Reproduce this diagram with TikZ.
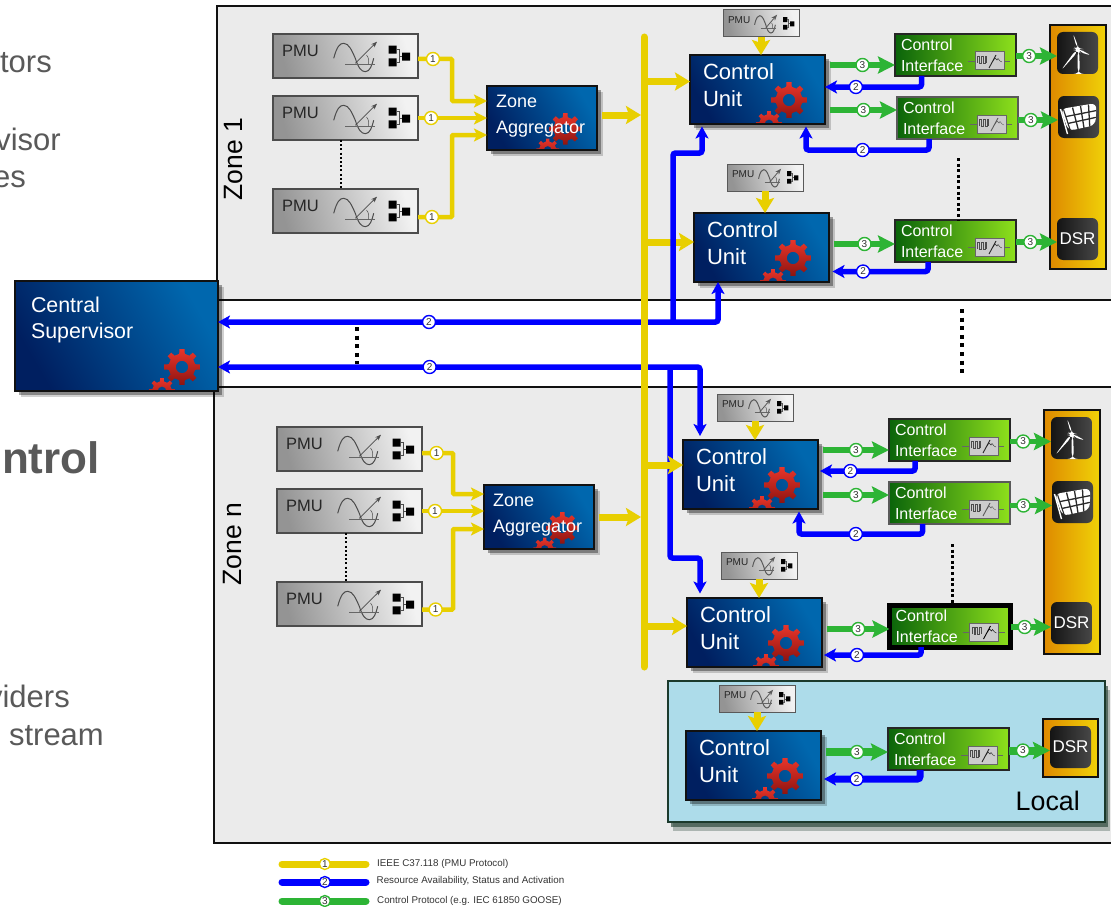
\documentclass[tikz,border=0pt]{standalone}
\usepackage{fontspec}
\setmainfont{Liberation Sans}
\usetikzlibrary{arrows.meta,positioning,shadows,calc}
\definecolor{wamsInk}{HTML}{111111}
\definecolor{wamsMuted}{HTML}{595959}
\definecolor{wamsZone}{HTML}{EBEBEB}
\definecolor{wamsLocal}{HTML}{ADDCEA}
\definecolor{wamsLocalEdge}{HTML}{1B3A2C}
\definecolor{wamsYellow}{HTML}{E8CF00}
\definecolor{wamsBlue}{HTML}{0000FF}
\definecolor{wamsGreen}{HTML}{2DB435}
\definecolor{wamsNavy}{HTML}{001F60}
\definecolor{wamsSea}{HTML}{00569C}
\definecolor{wamsSky}{HTML}{0067AE}
\definecolor{wamsLeaf}{HTML}{0A640A}
\definecolor{wamsMoss}{HTML}{3F9E10}
\definecolor{wamsLime}{HTML}{8EE01C}
\definecolor{wamsAmber}{HTML}{DE8A00}
\definecolor{wamsGold}{HTML}{F0D208}
\definecolor{wamsGearHi}{HTML}{E8352A}
\definecolor{wamsGearLo}{HTML}{8E1410}
\definecolor{wamsDark}{HTML}{2A2A2A}
\tikzset{
  yellowTip/.tip={Stealth[length=15pt,width=18pt,inset=3pt]},
  yellowSmallTip/.tip={Stealth[length=13pt,width=13pt,inset=3pt]},
  blueTip/.tip={Stealth[length=12pt,width=13pt,inset=3pt]},
  greenTip/.tip={Stealth[length=17pt,width=17pt,inset=3pt]},
  pics/gearpair/.style={code={
    \foreach \gx/\gy/\gr in {-36/-24/1, -56/0/.72} {
      \shade[even odd rule, top color=wamsGearHi, bottom color=wamsGearLo,
        shift={(\gx,\gy)}, scale=\gr]
        (-12:13.5) \foreach \a in {0,45,...,315} {
          -- (\a-12:13.5) -- (\a-8:18) -- (\a+8:18) -- (\a+12:13.5)
        } -- cycle (0,0) circle (6.2);
    }
  }},
  pics/pmuicon/.style={code={
    \draw[line width=1pt] (60.7,24.3) .. controls (64,12) and (67,9.3) .. (70.7,9.3)
      .. controls (76,9.3) and (79,17) .. (82.3,24.3)
      .. controls (85,33) and (88,37.7) .. (92.3,37.7)
      .. controls (97,37.7) and (99,31) .. (100.7,24.3);
    \draw[line width=.8pt, black!60] (72.3,30) -- (102.3,30);
    \draw[line width=.8pt, -{Stealth[length=6pt,width=4.5pt]}] (82.3,29.3) -- (104,7.7);
    \draw[line width=.5pt] (93.5,21) .. controls (96,24) and (96,27) .. (95.5,30);
    \fill (115.7,11.7) rectangle +(8,8) (115.7,24.3) rectangle +(8,8) (129,18.7) rectangle +(8,8);
    \draw[line width=.7pt] (123.7,15.7) -- (126,15.7) -- (126,28.3) -- (123.7,28.3)
      (126,22.7) -- (129,22.7);
  }},
  pics/ifaceicon/.style={code={
    \draw[line width=.8pt, black!60] (73,27) -- (115,27);
    \draw[line width=1pt, draw=black!60, fill=black!20] (80,18) rectangle (109,36);
    \draw[line width=.35pt, black!70] (82.5,29) -- (82.5,22) -- (84.3,22) -- (84.3,29) -- (86.1,29)
      -- (86.1,22) -- (87.9,22) -- (87.9,29) -- (89.7,29) -- (89.7,22) -- (91.5,22) -- (91.5,29);
    \draw[line width=.9pt] (94,34) -- (101,21);
    \draw[line width=.4pt] (98,27) -- (100,24) -- (102,26) -- (103,24.5) -- (105,27) -- (107,28);
  }},
  pics/windicon/.style={code={
    \fill[white] (-.5,-4) -- (-5,-21) -- (1.6,-4) -- cycle;
    \fill[white] (.5,-4.5) -- (15,3) -- (.5,-1.5) -- cycle;
    \fill[white] (-1,-4) -- (-17,18) -- (1,-2) -- cycle;
    \fill[white] (0,-3) -- (1.8,-3) -- (2.2,21) -- (.2,21) -- cycle;
    \fill[white] (.8,-3) circle (1.8);
  }},
  pics/panelicon/.style={code={
    \fill[white] (-18,-8) -- (18,-14) -- (17,8) -- (-10,14) -- cycle;
    \draw[white, line width=1.4pt] (-18,-8) -- (-11,17);
    \foreach \t in {.25,.5,.75}
      \draw[wamsDark, line width=1.3pt] ($(-14,-8)!\t!(18,-14)$) -- ($(-6,14)!\t!(17,8)$);
    \foreach \s in {.33,.67}
      \draw[wamsDark, line width=1.3pt] ($(-15,-7)!\s!(-8,13)$) -- ($(18,-13)!\s!(17,7)$);
    \draw[wamsDark, line width=1.1pt] (-15,-7.5) -- (-8,14);
  }},
  wams/gears/.style={path picture={\pic[scale=#1] at (path picture bounding box.south east) {gearpair};}},
  wams/softshadow/.style={
    drop shadow={shadow xshift=6pt, shadow yshift=-6pt, opacity=.18, fill=black},
    drop shadow={shadow xshift=4pt, shadow yshift=-4pt, opacity=.35, fill=black}},
  wams/zone/.style={draw=wamsInk, fill=wamsZone, line width=1.5pt, inner sep=0pt, outer sep=0pt, minimum width=920pt},
  wams/blue/.style={draw=wamsInk, line width=1.2pt, inner ysep=0pt, outer sep=0pt, align=left, text=white,
    left color=wamsNavy, middle color=wamsSea, right color=wamsSky, shading angle=120, wams/softshadow},
  wams/supervisor/.style={wams/blue, wams/gears=1, minimum width=203pt, minimum height=110pt, inner xsep=16pt,
    text width=171pt, text depth=63pt, font=\fontsize{21.4}{26}\selectfont},
  wams/aggregator/.style={wams/blue, wams/gears=.88, minimum width=110pt, minimum height=64pt, inner xsep=9pt,
    text width=92pt, text depth=33pt, font=\fontsize{18}{26}\selectfont},
  wams/control/.style={wams/blue, wams/gears=1, minimum width=135pt, minimum height=69pt, inner xsep=13pt,
    text width=109pt, text depth=35pt, font=\fontsize{22}{27}\selectfont},
  wams/pmu/.style={draw=black!70, line width=1.2pt, inner ysep=0pt, outer sep=0pt, align=left,
    left color=black!42, right color=black!5, shading angle=105,
    minimum width=145pt, minimum height=44pt, inner xsep=9pt, text width=127pt, text depth=10pt,
    font=\fontsize{16.5}{18}\selectfont, text=black!85,
    path picture={\pic at (path picture bounding box.north west) {pmuicon};}},
  wams/pmusmall/.style={draw=black!65, line width=1pt, inner ysep=0pt, outer sep=0pt, align=left,
    left color=black!42, right color=black!5, shading angle=105,
    minimum width=76pt, minimum height=27pt, inner xsep=5pt, text width=66pt, text depth=6pt,
    font=\fontsize{10}{11}\selectfont, text=black!85,
    path picture={\pic[xscale=.52, yscale=.61] at (path picture bounding box.north west) {pmuicon};}},
  wams/iface/.style={draw=black!85, line width=1.2pt, inner ysep=0pt, outer sep=0pt, align=left, text=white,
    left color=wamsLeaf, middle color=wamsMoss, right color=wamsLime,
    minimum width=121pt, minimum height=42pt, inner xsep=6pt, text width=109pt,
    font=\fontsize{16}{21}\selectfont,
    path picture={\pic at (path picture bounding box.north west) {ifaceicon};}},
  wams/bar/.style={draw=wamsInk, line width=1.3pt, outer sep=0pt, inner sep=0pt,
    left color=wamsAmber, middle color=wamsAmber!60!wamsGold, right color=wamsGold, minimum width=56pt},
  wams/icon/.style={rounded corners=6pt, outer sep=0pt, inner sep=0pt, text=white,
    left color=black!92, right color=black!72, minimum width=41pt, minimum height=42pt,
    font=\fontsize{17}{18}\selectfont},
  wams/wind/.style={wams/icon, path picture={\pic at (path picture bounding box.center) {windicon};}},
  wams/panel/.style={wams/icon, path picture={\pic at (path picture bounding box.center) {panelicon};}},
  wams/yflow/.style={-yellowTip, draw=wamsYellow, line width=7pt},
  wams/ysmall/.style={-yellowSmallTip, draw=wamsYellow, line width=4.5pt, rounded corners=1pt},
  wams/bflow/.style={-blueTip, draw=wamsBlue, line width=5.5pt, rounded corners=2.5pt},
  wams/gflow/.style={-greenTip, draw=wamsGreen, line width=5.5pt},
  wams/badge/.style={circle, fill=white, line width=1.4pt, minimum size=13pt, inner sep=0pt,
    font=\fontsize{10}{10}\selectfont, text=black!80},
  wams/badgey/.style={wams/badge, draw=wamsYellow},
  wams/badgeb/.style={wams/badge, draw=wamsBlue},
  wams/badgeg/.style={wams/badge, draw=wamsGreen},
  wams/key/.style={line width=7pt, line cap=round},
  wams/keytext/.style={anchor=west, inner sep=0pt, text=black!80, font=\fontsize{9.8}{10}\selectfont},
  wams/side/.style={anchor=base east, inner sep=0pt, text=wamsMuted, font=\fontsize{31}{31}\selectfont},
  wams/ticks/.style={draw=black, line width=2pt, dash pattern=on 2pt off 2.2pt},
  wams/ticksmid/.style={draw=black, line width=3pt, dash pattern=on 3pt off 2.6pt},
  wams/ticksbig/.style={draw=black, line width=4pt, dash pattern=on 4pt off 4.6pt},
}

\begin{document}
\begin{tikzpicture}[x=1pt, y=-1pt, node distance=18pt]
\useasboundingbox (0,0) rectangle (1111,907);

% text cut off by the page edge
\node[wams/side] (sideA) at (52,73) {tors};
\node[wams/side] (sideB) at (2,111) {.};
\node[wams/side] (sideC) at (61,150) {visor};
\node[wams/side] (sideD) at (26,187) {es};
\node[wams/side, font=\fontsize{44}{44}\selectfont\bfseries] (sideE) at (100,473) {ntrol};
\node[wams/side] (sideF) at (70,707) {viders};
\node[wams/side] (sideG) at (104,745) {stream};

% zones
\node[wams/zone, anchor=north west, minimum height=294pt] (zoneA) at (217,6) {};
\node[wams/zone, anchor=north west, minimum height=456pt] (zoneB) at (214,387) {};
\node[rotate=90, font=\fontsize{26.5}{28}\selectfont] (zoneAlabel) at (234,159) {Zone 1};
\node[rotate=90, font=\fontsize{26.5}{28}\selectfont] (zoneBlabel) at (233,544) {Zone n};
\node[anchor=north west, draw=wamsLocalEdge, fill=wamsLocal, line width=2pt, inner sep=0pt, outer sep=0pt,
  minimum width=437pt, minimum height=141pt,
  drop shadow={shadow xshift=5pt, shadow yshift=-9pt, opacity=.3, fill=wamsLocalEdge},
  drop shadow={shadow xshift=3pt, shadow yshift=-5pt, opacity=.6, fill=wamsLocalEdge}] (localBox) at (668,681) {};
\node[anchor=base east, inner sep=0pt, font=\fontsize{26.8}{28}\selectfont] (localLabel) at (1080,810) {Local};

\node[wams/supervisor, anchor=north west] (central) at (15,281) {Central\\Supervisor};

% zone 1
\node[wams/pmu, anchor=north west] (pmuA1) at (273,34) {PMU};
\node[wams/pmu, below=of pmuA1] (pmuA2) {PMU};
\node[wams/pmu, below=49pt of pmuA2] (pmuA3) {PMU};
\node[wams/aggregator, anchor=north west] (aggA) at (487,86) {Zone\\Aggregator};
\node[wams/control, anchor=north west] (cu1) at (690,55) {Control\\Unit};
\node[wams/control, anchor=north west] (cu2) at (694,213) {Control\\Unit};
\node[wams/pmusmall, above=of cu1, xshift=3.5pt] (pmuS1) {PMU};
\node[wams/pmusmall, above=22pt of cu2, xshift=3.5pt] (pmuS2) {PMU};
\node[wams/iface, anchor=north west] (ci1) at (895,34) {Control\\Interface};
\node[wams/iface, anchor=north west, draw=black!65] (ci2) at (897,97) {Control\\Interface};
\node[wams/iface, anchor=north west] (ci3) at (895,220) {Control\\Interface};
\node[wams/bar, anchor=north west, minimum height=244pt] (barA) at (1050,25) {};
\node[wams/wind, anchor=north west] (windA) at (1057,32) {};
\node[wams/panel, anchor=north west] (panelA) at (1058,96) {};
\node[wams/icon, anchor=north west] (dsrA) at (1057,218) {DSR};

% zone n
\node[wams/pmu, anchor=north west] (pmuB1) at (277,427) {PMU};
\node[wams/pmu, below=of pmuB1] (pmuB2) {PMU};
\node[wams/pmu, below=49pt of pmuB2] (pmuB3) {PMU};
\node[wams/aggregator, anchor=north west] (aggB) at (484,485) {Zone\\Aggregator};
\node[wams/control, anchor=north west] (cu3) at (683,440) {Control\\Unit};
\node[wams/control, anchor=north west] (cu4) at (687,598) {Control\\Unit};
\node[wams/pmusmall, above=19pt of cu3, xshift=4.5pt] (pmuS3) {PMU};
\node[wams/pmusmall, above=19pt of cu4, xshift=4.5pt] (pmuS4) {PMU};
\node[wams/iface, anchor=north west] (ci4) at (889,419) {Control\\Interface};
\node[wams/iface, anchor=north west, draw=black!65] (ci5) at (889,482) {Control\\Interface};
\node[wams/iface, anchor=north west, line width=5pt, draw=black] (ci6) at (889.5,605) {Control\\Interface};
\node[wams/bar, anchor=north west, minimum height=244pt] (barB) at (1044,410) {};
\node[wams/wind, anchor=north west] (windB) at (1051,417) {};
\node[wams/panel, anchor=north west] (panelB) at (1052,481) {};
\node[wams/icon, anchor=north west] (dsrB) at (1051,602) {DSR};

% local
\node[wams/control, anchor=north west] (cu5) at (686,731) {Control\\Unit};
\node[wams/pmusmall, above=19pt of cu5, xshift=3.5pt] (pmuS5) {PMU};
\node[wams/iface, anchor=north west] (ci7) at (888,728) {Control\\Interface};
\node[wams/bar, anchor=north west, minimum width=55pt, minimum height=58pt] (barC) at (1043,719) {};
\node[wams/icon, anchor=north west] (dsrC) at (1050,726) {DSR};

\coordinate (busTop) at (644,37);
\coordinate (busEnd) at (644,667);
\coordinate (mergeA) at (452,118);
\coordinate (mergeB) at (453,511);
\coordinate (feedA) at (718,322);
\coordinate (feedB) at (700,367);
\coordinate (riserA) at (673,322);
\coordinate (riserB) at (670,367);
\coordinate (turnA) at (702,153);
\coordinate (turnB) at (700,558);
\coordinate (turnC) at (806,150);
\coordinate (turnD) at (799,534);

% pmu to aggregator
\draw[wams/ysmall] ([yshift=-3pt]pmuA1.east) -- node[wams/badgey, pos=.44] {1} ([yshift=-3pt]pmuA1.east -| mergeA)
  -- ([yshift=17pt]aggA.west -| mergeA) -- ([yshift=17pt]aggA.west);
\draw[wams/ysmall] (pmuA2.east) -- node[wams/badgey, pos=.19] {1} (pmuA2.east -| aggA.west);
\draw[wams/ysmall] ([yshift=-6pt]pmuA3.east) -- node[wams/badgey, pos=.41] {1} ([yshift=-6pt]pmuA3.east -| mergeA)
  -- ([yshift=-17pt]aggA.west -| mergeA) -- ([yshift=-17pt]aggA.west);
\draw[wams/ysmall] ([yshift=-4pt]pmuB1.east) -- node[wams/badgey, pos=.47] {1} ([yshift=-4pt]pmuB1.east -| mergeB)
  -- ([yshift=23pt]aggB.west -| mergeB) -- ([yshift=23pt]aggB.west);
\draw[wams/ysmall] (pmuB2.east) -- node[wams/badgey, pos=.21] {1} (pmuB2.east -| aggB.west);
\draw[wams/ysmall] ([yshift=-5.5pt]pmuB3.east) -- node[wams/badgey, pos=.44] {1} ([yshift=-5.5pt]pmuB3.east -| mergeB)
  -- ([yshift=-12pt]aggB.west -| mergeB) -- ([yshift=-12pt]aggB.west);

% yellow arrows under the blue risers
\draw[wams/yflow] ([yshift=8pt]cu1.west -| busTop) -- ([yshift=8pt]cu1.west);
\draw[wams/yflow] ([yshift=5.5pt]cu2.west -| busTop) -- ([yshift=5.5pt]cu2.west);

% resource and status
\draw[wams/bflow, blueTip-blueTip] (feedA |- cu2.south) -- (feedA)
  -- node[wams/badgeb, pos=.578] {2} (feedA -| central.east);
\draw[wams/bflow] (riserA) |- (turnA) -- ([yshift=-2.5pt]turnA |- cu1.south);
\draw[wams/bflow, blueTip-blueTip] ([yshift=4pt]feedB |- cu3.north) -- (feedB)
  -- node[wams/badgeb, pos=.561] {2} (feedB -| central.east);
\draw[wams/bflow] (riserB) |- (turnB) -- ([yshift=4.5pt]turnB |- cu4.north);
\draw[wams/bflow] ([xshift=-34pt]ci1.south) |- node[wams/badgeb, pos=.84] {2} ([yshift=2.5pt]cu1.east);
\draw[wams/bflow] ([xshift=-28.5pt]ci2.south) |- node[wams/badgeb, pos=.77] {2} (turnC) -- ([yshift=-2.5pt]turnC |- cu1.south);
\draw[wams/bflow] ([xshift=-27.5pt]ci3.south) |- node[wams/badgeb, pos=.84] {2} ([xshift=3.5pt,yshift=-24pt]cu2.east);
\draw[wams/bflow] ([xshift=-34.5pt]ci4.south) |- node[wams/badgeb, pos=.84] {2} ([xshift=2pt,yshift=3.5pt]cu3.east);
\draw[wams/bflow] ([xshift=-27pt]ci5.south) |- node[wams/badgeb, pos=.77] {2} (turnD) -- ([yshift=-2.5pt]turnD |- cu3.south);
\draw[wams/bflow] ([xshift=-29pt]ci6.south) |- node[wams/badgeb, pos=.83] {2} ([xshift=2pt,yshift=-22.5pt]cu4.east);
\draw[wams/bflow, line width=7pt] ([xshift=-28.5pt]ci7.south) |- node[wams/badgeb, pos=.83] {2} ([xshift=3pt,yshift=-13.5pt]cu5.east);

% yellow bus and its arrows
\draw[draw=wamsYellow, line width=7pt, line cap=round] (busTop) -- (busEnd);
\draw[wams/yflow] ([xshift=5pt,yshift=3pt]aggA.east) -- ([xshift=-3pt,yshift=3pt]aggA.east -| busTop);
\draw[wams/yflow] ([xshift=5pt]aggB.east) -- ([xshift=-3pt]aggB.east -| busTop);
\draw[wams/yflow] ([yshift=9.5pt]cu3.west -| busTop) -- ([yshift=9.5pt]cu3.west);
\draw[wams/yflow] ([yshift=6.5pt]cu4.west -| busTop) -- ([yshift=6.5pt]cu4.west);
\foreach \pm/\cu in {pmuS1/cu1, pmuS2/cu2, pmuS3/cu3, pmuS4/cu4, pmuS5/cu5}
  \draw[wams/yflow] (\pm.south) -- (\pm.south |- \cu.north);

% control protocol
\draw[wams/gflow] ([xshift=5pt,yshift=-10pt]ci1.west -| cu1.east) -- node[wams/badgeg] {3} ([yshift=-10pt]ci1.west);
\draw[wams/gflow] ([xshift=5pt,yshift=8pt]ci2.west -| cu1.east) -- node[wams/badgeg] {3} ([yshift=8pt]ci2.west);
\draw[wams/gflow] ([xshift=5pt,yshift=-3pt]ci3.west -| cu2.east) -- node[wams/badgeg] {3} ([yshift=-3pt]ci3.west);
\draw[wams/gflow] ([xshift=5pt,yshift=-10pt]ci4.west -| cu3.east) -- node[wams/badgeg] {3} ([yshift=-10pt]ci4.west);
\draw[wams/gflow] ([xshift=5pt,yshift=8pt]ci5.west -| cu3.east) -- node[wams/badgeg] {3} ([yshift=8pt]ci5.west);
\draw[wams/gflow] ([xshift=5pt,yshift=-3pt]ci6.west -| cu4.east) -- node[wams/badgeg] {3} ([yshift=-3pt]ci6.west);
\draw[wams/gflow, line width=8pt] ([xshift=5pt,yshift=-3pt]ci7.west -| cu5.east) -- node[wams/badgeg] {3} ([yshift=-3pt]ci7.west);
\draw[wams/gflow] ([yshift=-1pt]ci1.east) -- node[wams/badgeg, pos=.32] {3} ([yshift=-1pt]ci1.east -| windA.west);
\draw[wams/gflow] ([yshift=-2pt]ci2.east) -- node[wams/badgeg, pos=.32] {3} ([yshift=-2pt]ci2.east -| panelA.west);
\draw[wams/gflow] ([yshift=-1pt]ci3.east) -- node[wams/badgeg, pos=.35] {3} ([yshift=-1pt]ci3.east -| dsrA.west);
\draw[wams/gflow] ([yshift=-1.5pt]ci4.east) -- node[wams/badgeg, pos=.32] {3} ([yshift=-1.5pt]ci4.east -| windB.west);
\draw[wams/gflow] ([yshift=-2.5pt]ci5.east) -- node[wams/badgeg, pos=.32] {3} ([yshift=-2.5pt]ci5.east -| panelB.west);
\draw[wams/gflow] ([yshift=-1pt]ci6.east) -- node[wams/badgeg, pos=.35] {3} ([yshift=-1pt]ci6.east -| dsrB.west);
\draw[wams/gflow, line width=8pt] ([yshift=-1.5pt]ci7.east) -- node[wams/badgeg, pos=.34] {3} ([yshift=-1.5pt]ci7.east -| dsrC.west);

% dots
\draw[wams/ticks] ([xshift=-4.5pt]pmuA2.south) -- ([xshift=-4.5pt]pmuA3.north);
\draw[wams/ticks] ([xshift=-4pt]pmuB2.south) -- ([xshift=-4pt]pmuB3.north);
\coordinate (dotsA) at (357,327);
\coordinate (dotsB) at (962,309);
\coordinate (dotsC) at (958,158);
\coordinate (dotsD) at (952,544);
\draw[wams/ticksbig] (dotsA) -- (357,364);
\draw[wams/ticksbig] (dotsB) -- (962,376);
\draw[wams/ticksmid] (dotsC) -- (dotsC |- ci3.north);
\draw[wams/ticksmid] (dotsD) -- (dotsD |- ci6.north);

% legend
\coordinate (keyA) at (282,864);
\coordinate (keyB) at (282,882);
\coordinate (keyC) at (282,901);
\node[wams/keytext] (keyAtext) at (377,864) {IEEE C37.118 (PMU Protocol)};
\node[wams/keytext, xshift=-.5pt] (keyBtext) at (377,881) {Resource Availability, Status and Activation};
\node[wams/keytext] (keyCtext) at (377,901) {Control Protocol (e.g. IEC 61850 GOOSE)};
\draw[wams/key, draw=wamsYellow] (keyA) -- node[wams/badgey, minimum size=11pt, pos=.51] {1} +(84,0);
\draw[wams/key, draw=wamsBlue] (keyB) -- node[wams/badgeb, minimum size=11pt, pos=.51] {2} +(84,0);
\draw[wams/key, draw=wamsGreen] (keyC) -- node[wams/badgeg, minimum size=11pt, pos=.51] {3} +(84,0);
\end{tikzpicture}
\end{document}
